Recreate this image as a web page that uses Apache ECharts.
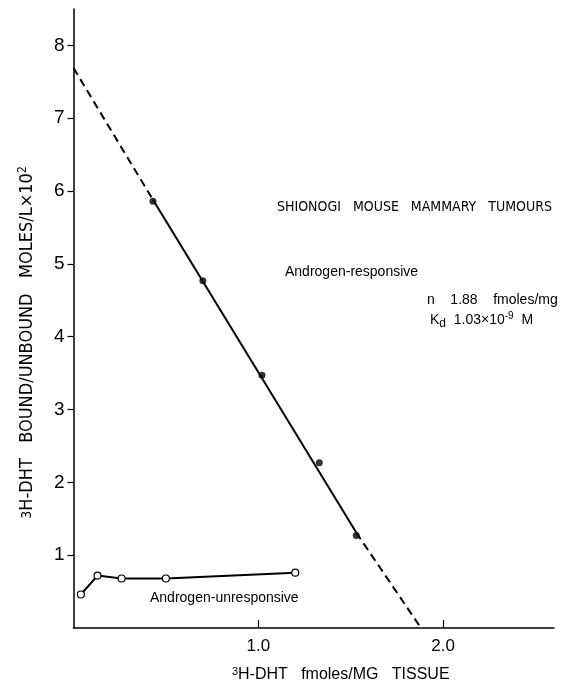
<!DOCTYPE html>
<html>
<head>
<meta charset="utf-8">
<script src="https://cdn.jsdelivr.net/npm/echarts@6/dist/echarts.min.js"></script>
<style>
  html, body { margin: 0; padding: 0; background: #fff; }
  #main { width: 574px; height: 680px; }
</style>
</head>
<body>
<div id="main"></div>
<script>
// androgen-responsive tumours: measured points
var responsiveX = [0.43, 0.70, 1.02, 1.33, 1.53];
var responsiveY = [5.86, 4.77, 3.47, 2.27, 1.27];
// fitted Scatchard line: dashed extrapolation / solid / dashed extrapolation
var fitX = [0, 0.43, 1.53, 1.88];
var fitY = [7.69, 5.88, 1.31, 0];
// androgen-unresponsive tumours
var unresponsiveX = [0.04, 0.13, 0.26, 0.50, 1.20];
var unresponsiveY = [0.46, 0.72, 0.68, 0.68, 0.76];
// tick values
var xTicks = [1, 2];
var yTicks = [1, 2, 3, 4, 5, 6, 7, 8];

var sans = "'Liberation Sans', Arial, sans-serif";
var narrow = "'Liberation Sans Narrow', 'DejaVu Sans Condensed', sans-serif";

function pairs(xs, ys) {
  return xs.map(function (x, i) { return [x, ys[i]]; });
}
var fitPts = pairs(fitX, fitY);

var myChart = echarts.init(document.getElementById('main'));

var option = {
  animation: false,
  backgroundColor: '#fff',
  grid: {
    left: 73.5, right: 20, top: 9, bottom: 52,
    containLabel: false,
    outerBoundsMode: 'none'
  },
  xAxis: {
    type: 'value',
    min: 0, max: 2.6, interval: 1,
    splitLine: { show: false },
    axisLine: { lineStyle: { color: '#000', width: 1.5 } },
    axisTick: { inside: true, length: 8, customValues: xTicks, lineStyle: { color: '#000', width: 1.2 } },
    axisLabel: {
      customValues: xTicks, margin: 10, color: '#000', fontFamily: sans, fontSize: 17,
      formatter: function (v) { return v.toFixed(1); }
    },
    name: '{s|3}H-DHT   fmoles/MG   TISSUE',
    nameLocation: 'middle',
    nameGap: 38,
    nameTextStyle: {
      color: '#000', fontFamily: sans, fontSize: 16, padding: [0, 0, 0, 54],
      rich: { s: { fontSize: 11, fontFamily: sans, color: '#000', padding: [0, 0, 6, 0] } }
    }
  },
  yAxis: {
    type: 'value',
    min: 0, max: 8.5, interval: 1,
    splitLine: { show: false },
    axisLine: { lineStyle: { color: '#000', width: 1.5 } },
    axisTick: { inside: false, length: 6, customValues: yTicks, lineStyle: { color: '#000', width: 1.2 } },
    axisLabel: { customValues: yTicks, margin: 9, color: '#000', fontFamily: sans, fontSize: 19 },
    name: '{s|3}H-DHT   BOUND/UNBOUND   MOLES/L×10{sup|2}',
    nameLocation: 'middle',
    nameGap: 36,
    nameTextStyle: {
      color: '#000', fontFamily: narrow, fontSize: 18, padding: [0, 48, 0, 0],
      rich: {
        s: { fontSize: 14, fontFamily: narrow, color: '#000' },
        sup: { fontSize: 12, fontFamily: narrow, color: '#000', padding: [0, 0, 9, 0] }
      }
    }
  },
  series: [
    {
      type: 'line', data: fitPts.slice(0, 2), symbol: 'none',
      lineStyle: { color: '#000', width: 2, type: [8, 5] }
    },
    {
      type: 'line', data: fitPts.slice(1, 3), symbol: 'none',
      lineStyle: { color: '#000', width: 2 }
    },
    {
      type: 'line', data: fitPts.slice(2, 4), symbol: 'none',
      lineStyle: { color: '#000', width: 2, type: [8, 5] }
    },
    {
      type: 'scatter', data: pairs(responsiveX, responsiveY),
      symbol: 'circle', symbolSize: 7,
      itemStyle: { color: '#000' }
    },
    {
      type: 'line', data: pairs(unresponsiveX, unresponsiveY),
      symbol: 'circle', symbolSize: 7, showAllSymbol: true,
      lineStyle: { color: '#000', width: 2 },
      itemStyle: { color: '#fff', borderColor: '#000', borderWidth: 1.2 }
    }
  ],
  graphic: [
    {
      type: 'text', x: 277, y: 207,
      style: { text: 'SHIONOGI   MOUSE   MAMMARY   TUMOURS', font: '14px ' + narrow, fill: '#000', verticalAlign: 'middle' }
    },
    {
      type: 'text', x: 285, y: 272,
      style: { text: 'Androgen-responsive', font: '14px ' + sans, fill: '#000', verticalAlign: 'middle' }
    },
    {
      type: 'text', x: 427, y: 300,
      style: { text: 'n    1.88    fmoles/mg', font: '14px ' + sans, fill: '#000', verticalAlign: 'middle' }
    },
    {
      type: 'text', x: 430, y: 320,
      style: {
        text: 'K{sub|d}  1.03×10{sup|-9}  M', font: '14px ' + sans, fill: '#000', verticalAlign: 'middle',
        rich: {
          sub: { fontSize: 12, fontFamily: sans, fill: '#000', padding: [7, 0, 0, 0] },
          sup: { fontSize: 10, fontFamily: sans, fill: '#000', padding: [0, 0, 8, 0] }
        }
      }
    },
    {
      type: 'text', x: 150, y: 598,
      style: { text: 'Androgen-unresponsive', font: '14px ' + sans, fill: '#000', verticalAlign: 'middle' }
    }
  ]
};

myChart.setOption(option);
</script>
</body>
</html>
